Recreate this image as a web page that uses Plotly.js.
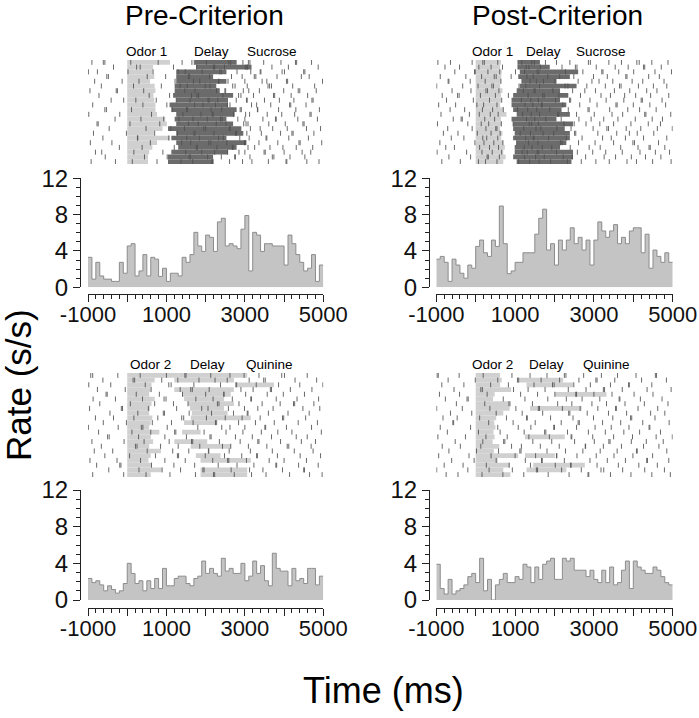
<!DOCTYPE html>
<html><head><meta charset="utf-8">
<script src="https://cdn.plot.ly/plotly-3.0.1.min.js"></script>
<style>html,body{margin:0;padding:0;background:#fff}#chart{width:699px;height:718px}</style>
</head><body><div id="chart"></div>
<script>
// ---------- DATA ----------
const columnTitles = ['Pre-Criterion', 'Post-Criterion'];
const xTickVals = [-1000, 0, 1000, 2000, 3000, 4000, 5000];
const xTickText = ['-1000', '', '1000', '', '3000', '', '5000'];
const yTickVals = [0, 4, 8, 12];
const binEdgeStart = -1000;
const binWidth = 100;

// PSTH rates (spikes/s), 100 ms bins from -1000 to 5000
const ratePreSucrose = [3.3,0.9,2.75,1.25,0.9,0.9,0.65,0.65,2.75,1.55,
 4.55,4.8,1.25,1.8,3.6,1.25,3.3,3.1,1.2,2.1,
 0.65,1.55,1.55,1.25,3.3,2.75,3.6,6.05,4.55,3.95,
 5.75,5.5,3.95,7.2,7.6,4.55,4.8,4.55,4.25,6.4,
 7.9,1.8,6.05,5.75,3.95,4.8,4.8,4.55,4.55,4.55,
 2.45,5.75,4.8,3.6,2.75,1.8,2.1,3.6,0.65,2.45];
const ratePostSucrose = [3.1,3.4,2.75,0.65,3.1,2.45,1.55,1.0,2.45,2.1,
 4.5,5.2,3.8,3.4,5.2,4.5,8.95,4.8,1.5,1.8,
 2.75,2.75,3.8,3.8,3.8,5.85,7.6,8.6,4.1,4.8,
 2.45,5.2,4.1,5.2,6.55,4.8,5.5,4.1,5.2,2.45,
 5.2,7.2,6.2,5.5,6.2,6.9,4.8,5.5,4.8,6.2,
 6.55,6.55,3.8,5.85,2.1,4.1,3.4,2.75,3.8,2.75];
const ratePreQuinine = [2.35,1.9,2.1,1.65,1.0,1.55,1.15,0.75,1.0,1.8,
 4.0,2.9,1.8,2.1,1.0,2.1,1.25,2.35,1.25,3.45,
 1.55,1.55,2.35,2.6,2.6,1.8,1.55,2.35,2.6,4.25,
 2.9,3.45,2.9,2.6,4.55,3.15,3.45,2.9,2.9,4.0,
 2.1,2.6,4.25,2.9,3.75,2.1,1.55,5.1,3.45,3.15,
 3.15,1.55,3.45,2.1,2.35,1.8,3.45,3.45,1.65,2.6];
const ratePostQuinine = [3.9,1.25,0.65,2.25,0.65,1.0,1.25,1.65,2.55,2.9,
 1.9,4.55,1.0,2.25,0,1.65,2.25,2.9,1.9,1.9,
 2.55,2.25,3.9,3.6,1.9,3.6,2.25,3.9,4.25,4.55,
 2.25,2.25,4.55,4.25,4.55,3.25,3.25,3.25,2.55,3.25,
 2.25,1.9,3.25,1.9,3.6,1.65,1.9,3.25,4.25,1.25,
 4.25,3.6,3.25,2.9,2.9,3.6,3.25,2.55,1.9,1.65];

// Event labels [text, time (ms)]
const eventLabelsPreSucrose = [['Odor 1', 490], ['Delay', 2140], ['Sucrose', 3700]];
const eventLabelsPostSucrose = [['Odor 1', 437], ['Delay', 1730], ['Sucrose', 3175]];
const eventLabelsPreQuinine = [['Odor 2', 583], ['Delay', 2040], ['Quinine', 3620]];
const eventLabelsPostQuinine = [['Odor 2', 437], ['Delay', 1806], ['Quinine', 3327]];

// Per-trial epochs (ms): odor sampling 0 -> odorEnd, delay delayStart -> delayEnd
const odorEndPreSucrose = [1090,660,650,690,580,700,720,670,690,720,720,760,970,1010,900,680,1090,760,640,560,530,530];
const delayStartPreSucrose = [1720,1760,1250,1250,1250,1210,1210,1170,1250,1080,1125,1250,1210,1250,1040,1250,1125,1250,1300,1125,1040,1040];
const delayEndPreSucrose = [2790,3170,2530,2190,2530,2270,2360,2700,2570,2570,2790,2740,2530,2700,2910,2960,2530,3040,2790,2570,2190,2190];

const odorEndPostSucrose = [640,620,660,650,640,620,680,640,650,620,700,780,640,660,620,680,650,700,740,700,760,700];
const delayStartPostSucrose = [1060,1060,1120,1080,1160,1120,1040,950,910,910,950,1040,910,950,950,990,950,1040,990,990,950,1040];
const delayEndPostSucrose = [1630,1880,2600,2390,2050,2560,2140,2350,2140,2300,2180,2390,2050,2470,2260,2390,2390,2300,2140,2470,2470,2430];

const odorEndPreQuinine = [1300,700,620,600,560,700,620,580,560,640,600,560,820,600,660,560,860,600,540,620,880,600];
const delayStartPreQuinine = [1300,1200,2800,1200,1400,1450,1550,1600,1650,1620,1450,null,1400,null,1200,1620,null,1750,1870,null,1870,1870];
const delayEndPreQuinine = [3060,2720,3740,2720,2640,2470,2720,2470,2560,3150,2300,null,1870,null,2040,2640,null,2380,3150,null,3060,3060];

const odorEndPostQuinine = [620,660,620,900,480,440,820,860,700,520,470,500,450,480,430,600,460,1080,560,860,700,880];
const delayStartPostQuinine = [null,1100,1290,null,2010,null,null,1380,null,null,null,null,null,1250,null,null,null,1250,null,1460,1290,null];
const delayEndPostQuinine = [null,2220,2470,null,3320,null,null,2690,null,null,null,null,null,2260,null,null,null,2010,null,2770,2300,null];

// Spike times (ms) per trial
const spikesPreSucrose = [
[-900,-610,-570,90,790,1400,1650,1710,2020,2590,2640,2950,3090,3130,3480,3920,4290,4320,4700],
[-350,240,330,1180,1770,2200,2230,2480,3010,3050,3070,3690,4110,4870],
[-990,-760,20,660,1300,1480,1910,2360,2400,2800,3150,3390,3410,3950,4010,4500,4530],
[-520,-480,510,980,1560,1590,2100,2660,2930,3240,3280,3820,4440,4640],
[-830,-130,300,1220,1690,1850,2330,2340,2570,3000,3440,3560,4060,4090,4980],
[-660,160,870,1350,1530,1990,2110,2690,2750,3060,3590,3630,3680,4220,4780],
[-950,-280,-250,420,1470,1730,2280,2490,2510,2960,3100,3370,3990,4360,4400,4820],
[-720,560,1080,1640,1780,1820,2440,2840,2900,3220,3730,3760,4180,4600],
[-410,-90,220,740,1250,1600,2060,2090,2310,2780,3040,3060,3500,3880,4250,4710,4740],
[-880,400,1010,1720,1930,2250,2550,2620,3170,3300,3660,4140,4170,4560],
[-570,-530,110,1150,1510,1540,2140,2410,2880,2910,3320,3330,3860,4300,4900],
[-980,-190,620,1420,1880,2170,2190,2710,3020,3120,3570,3940,4270,4660,4690],
[-310,350,930,1320,1680,2040,2380,2420,2820,3000,3460,3780,3800,4350,4850],
[-770,-740,70,830,1560,1810,2270,2520,2970,3030,3080,3610,4030,4480,4510],
[-460,480,1110,1460,1950,2000,2600,2630,3140,3390,3710,4080,4570,4930],
[-860,-20,700,1280,1700,1730,2210,2760,2790,3050,3420,3910,4200,4230,4760],
[-620,260,270,1060,1520,1840,2330,2450,2870,3110,3540,3560,4120,4620],
[-940,-390,590,1390,1620,2080,2130,2540,2990,3010,3360,3840,4380,4410,4960],
[-200,380,1200,1760,1790,2290,2680,2700,3080,3250,3640,3970,4310,4730],
[-810,-650,170,910,1490,1900,2230,2560,2850,3000,3490,3520,4000,4460,4680],
[-560,440,1020,1580,1610,2050,2400,2740,2760,3130,3700,3740,4150,4530],
[-920,-300,130,760,1370,1670,2160,2190,2610,2940,3180,3600,4050,4070,4580,4890]];

const spikesPostSucrose = [
[-960,-640,-90,180,220,560,1170,1420,1490,1770,2050,2390,2860,2910,3380,3700,4090,4150,4470,4880],
[-780,-410,80,390,680,1280,1350,1640,2190,2530,2570,3060,3540,3870,4260,4290,4710],
[-530,-30,-10,310,610,1010,1240,1560,1600,2280,2720,3200,3230,3630,4010,4550,4970],
[-900,-250,150,470,520,900,1300,1460,1830,2130,2490,2990,3340,3810,3840,4390,4660],
[-700,-680,-140,240,640,1380,1540,1720,2010,2600,2950,3130,3480,3970,4240,4780],
[-990,-330,60,410,450,1100,1270,1620,2270,2340,2820,3290,3650,3690,4130,4510,4850],
[-600,-120,260,300,590,1210,1480,1510,1960,2460,2770,3040,3520,3910,4340,4600],
[-850,-460,-420,120,500,830,1330,1700,1740,2110,2660,3180,3420,3780,4060,4440,4900],
[-740,-60,350,660,1160,1400,1590,2030,2380,2410,2900,3310,3760,4200,4230,4730],
[-940,-510,30,200,540,1250,1450,1670,1690,2210,2640,3080,3560,3590,4000,4420,4820],
[-650,-280,170,430,700,1060,1320,1550,1880,2350,2850,2880,3400,3860,4160,4580],
[-880,-160,90,370,570,1190,1410,1620,2080,2110,2560,3010,3460,3730,4290,4320,4950],
[-570,-370,-340,230,480,1290,1500,1780,2170,2620,2930,3250,3610,4050,4480,4740],
[-970,-200,140,330,650,950,1360,1420,1590,2240,2500,2800,3150,3500,3940,4380,4690],
[-710,-90,260,510,540,1220,1530,1650,2060,2420,2980,3330,3370,3820,4190,4610,4990],
[-820,-450,40,390,620,1130,1390,1710,1980,2510,2540,3100,3580,3900,4100,4520],
[-620,-300,180,280,560,1270,1460,1480,1850,2300,2700,3220,3440,3800,4260,4850],
[-910,-20,210,460,690,1040,1340,1580,2150,2190,2610,3030,3500,3990,4030,4640],
[-760,-540,100,350,580,1230,1430,1690,1930,2400,2880,3160,3680,4120,4400,4430,4800],
[-980,-230,160,420,660,1180,1310,1560,1600,2050,2580,2970,3300,3720,4170,4560,4920],
[-680,-130,290,320,600,1240,1520,1740,2220,2450,2790,3260,3550,3950,4310,4700],
[-860,-390,70,250,540,1090,1370,1610,1900,2330,2680,3050,3390,3840,4080,4490,4960]];

const spikesPreQuinine = [
[-930,-880,-240,330,1000,1470,1500,2130,2620,2980,3360,3940,4010,4590],
[-620,150,190,880,1290,1830,2240,2550,3110,3480,3520,4280,4830],
[-980,-420,460,1060,1120,1700,2380,2770,2790,3290,3860,4400,4990],
[-760,-50,610,1350,1620,1660,2090,2900,3210,3650,3680,4160,4710],
[-540,-510,230,820,1410,2000,2460,2470,3020,3570,3980,4520],
[-870,-300,390,940,990,1750,2190,2680,3150,3170,3800,4330,4880],
[-700,80,700,1180,1550,2300,2340,2850,3440,3900,4240,4270,4760],
[-960,-150,-120,540,1260,1900,2060,2580,2990,3330,3720,4480,4910],
[-440,270,920,950,1580,2150,2710,3060,3080,3600,4100,4640],
[-810,-350,170,780,1390,1440,2020,2500,2930,3390,3960,3990,4550],
[-610,-20,640,1130,1680,2250,2270,2840,3270,3750,4360,4850],
[-990,-230,360,400,1020,1800,2410,2620,3000,3510,3530,4060,4700],
[-730,120,600,1210,1240,1960,2520,2950,3420,3840,4200,4950],
[-500,-460,290,960,1510,2110,2140,2760,3190,3680,4310,4590],
[-900,-80,430,1070,1640,1670,2350,2880,3330,3360,3910,4440,4800],
[-660,210,250,850,1300,1850,2430,2640,3090,3560,4080,4120,4690],
[-840,-370,510,1160,1570,2070,2080,2600,3140,3700,4260,4740],
[-570,60,720,1280,1310,1990,2480,2920,3300,3320,3830,4410,4930],
[-950,-260,340,960,1480,2180,2560,2590,3040,3620,4000,4570],
[-780,-190,-160,620,1190,1720,2320,2800,3230,3790,3810,4370,4870],
[-470,300,890,1360,1930,1960,2650,3120,3460,3960,4500,4520],
[-880,-90,480,1090,1740,2200,2230,2730,3170,3540,4140,4650,4970]];

const spikesPostQuinine = [
[-980,-950,-420,190,920,1380,1810,2250,2290,2740,3190,3600,4070,4560,4590],
[-700,-10,560,1060,1090,1660,2130,2620,3050,3080,3530,4210,4840],
[-860,-300,380,830,1480,1950,1990,2490,2910,3420,3880,3900,4470],
[-550,130,170,960,1330,1760,2350,2800,3240,3270,3720,4350,4960],
[-920,-410,290,1140,1570,2010,2540,2560,3000,3460,4020,4500],
[-770,-220,-190,700,1250,1830,2300,2700,3150,3640,3660,4180,4730],
[-490,230,840,870,1440,2080,2440,2950,3320,3790,4280,4880],
[-990,-340,360,1020,1590,1620,2200,2650,3100,3550,3570,4120,4620],
[-640,-100,520,1180,1700,2360,2390,2830,3370,3830,4440,4800],
[-830,-470,100,780,1290,1310,1900,2470,2990,3480,3930,3960,4550],
[-580,-560,330,950,1510,2170,2600,2630,3220,3680,4240,4910],
[-900,-130,560,1080,1400,1980,2000,2560,3030,3440,3890,4400,4420],
[-720,70,620,1230,1750,1780,2330,2860,3290,3760,4160,4690],
[-960,-260,260,800,1350,1870,2420,2440,2970,3500,3980,4580,4990],
[-520,180,710,740,1450,1930,2510,3010,3380,3410,3950,4330,4760],
[-850,-390,130,910,1160,1640,2120,2780,2790,3240,3700,4260,4650],
[-680,20,580,1120,1150,1810,2280,2720,3160,3590,4080,4100,4850],
[-940,-170,390,1000,1520,2050,2060,2570,3060,3510,3990,4490],
[-610,-40,520,1260,1670,1690,2250,2900,3340,3800,4340,4360,4900],
[-800,-320,270,850,1390,2020,2410,2420,3080,3620,4140,4610],
[-990,-200,340,930,1540,1570,2180,2680,3180,3250,3730,4290,4790],
[-750,-450,160,690,1220,1840,2370,2850,2870,3420,3940,4470,4940]];

// ---------- LAYOUT GEOMETRY ----------
const W = 699, H = 718;
const fx = p => p / W, fy = p => 1 - p / H;
const cols = [
  {x0: 88, x1: 323.3, yAxisPx: 80, titlePx: 204},
  {x0: 436.3, x1: 672.7, yAxisPx: 429, titlePx: 557}
];
const rows = [
  {r0: 60, r1: 164, h0: 178.3, h1: 287.3, xAxisPx: 294, labelPx: 51},
  {r0: 373, r1: 477, h0: 490, h1: 600, xAxisPx: 608, labelPx: 364}
];

const panels = [
  {col: 0, row: 0, odorEnd: odorEndPreSucrose, dS: delayStartPreSucrose, dE: delayEndPreSucrose, dColor: '#6b6b6b', spikes: spikesPreSucrose, rate: ratePreSucrose, labels: eventLabelsPreSucrose},
  {col: 1, row: 0, odorEnd: odorEndPostSucrose, dS: delayStartPostSucrose, dE: delayEndPostSucrose, dColor: '#6b6b6b', spikes: spikesPostSucrose, rate: ratePostSucrose, labels: eventLabelsPostSucrose},
  {col: 0, row: 1, odorEnd: odorEndPreQuinine, dS: delayStartPreQuinine, dE: delayEndPreQuinine, dColor: '#d0d0d0', spikes: spikesPreQuinine, rate: ratePreQuinine, labels: eventLabelsPreQuinine},
  {col: 1, row: 1, odorEnd: odorEndPostQuinine, dS: delayStartPostQuinine, dE: delayEndPostQuinine, dColor: '#d0d0d0', spikes: spikesPostQuinine, rate: ratePostQuinine, labels: eventLabelsPostQuinine}
];

const FONT = 'Liberation Sans, Arial, Helvetica, sans-serif';
const traces = [];
const layout = {
  width: W, height: H,
  margin: {l: 0, r: 0, t: 0, b: 0},
  paper_bgcolor: '#fff', plot_bgcolor: 'rgba(0,0,0,0)',
  showlegend: false, barmode: 'overlay',
  font: {family: FONT, color: '#000'},
  annotations: []
};

panels.forEach((p, k) => {
  const c = cols[p.col], r = rows[p.row];
  const ra = 2 * k + 1, ha = 2 * k + 2;
  const nT = p.spikes.length;
  const xdom = [fx(c.x0), fx(c.x1)];
  layout['xaxis' + ra] = {domain: xdom, range: [-1000, 5000], visible: false, anchor: 'y' + ra, fixedrange: true};
  layout['yaxis' + ra] = {domain: [fy(r.r1), fy(r.r0)], range: [nT, 0], visible: false, anchor: 'x' + ra, fixedrange: true};
  layout['xaxis' + ha] = {
    domain: xdom, range: [-1000, 5000], anchor: 'free', position: fy(r.xAxisPx),
    showline: true, linecolor: '#222', linewidth: 1, showgrid: false, zeroline: false,
    tickmode: 'array', tickvals: xTickVals, ticktext: xTickText,
    ticks: 'outside', ticklen: 7, tickwidth: 1, tickcolor: '#222', ticklabelstandoff: -6,
    ticklabeloverflow: 'allow',
    minor: {tickmode: 'linear', tick0: -1000, dtick: 200, ticks: 'outside', ticklen: 4, tickwidth: 1, tickcolor: '#222', showgrid: false},
    tickfont: {size: 22, family: FONT, color: '#111'}, fixedrange: true
  };
  layout['yaxis' + ha] = {
    domain: [fy(r.h1), fy(r.h0)], range: [0, 12], anchor: 'free', position: fx(c.yAxisPx),
    showline: true, linecolor: '#222', linewidth: 1, showgrid: false, zeroline: false,
    tickmode: 'array', tickvals: yTickVals,
    ticks: 'outside', ticklen: 7, tickwidth: 1, tickcolor: '#222',
    minor: {tickmode: 'linear', tick0: 0, dtick: 1, ticks: 'outside', ticklen: 4, tickwidth: 1, tickcolor: '#222', showgrid: false},
    tickfont: {size: 24, family: FONT, color: '#111'}, fixedrange: true
  };

  const rowY = p.spikes.map((_, i) => i + 0.5);
  traces.push({type: 'bar', orientation: 'h', xaxis: 'x' + ra, yaxis: 'y' + ra,
    y: rowY, base: p.odorEnd.map(() => 0), x: p.odorEnd.map(v => v),
    width: 1, marker: {color: '#d0d0d0', line: {width: 0}}, hoverinfo: 'skip'});
  const dy = [], db = [], dx = [];
  p.dS.forEach((s, i) => { if (s !== null) { dy.push(i + 0.5); db.push(s); dx.push(p.dE[i] - s); } });
  traces.push({type: 'bar', orientation: 'h', xaxis: 'x' + ra, yaxis: 'y' + ra,
    y: dy, base: db, x: dx, width: 1, marker: {color: p.dColor, line: {width: 0}}, hoverinfo: 'skip'});
  const sx = [], sy = [];
  p.spikes.forEach((tr, i) => tr.forEach(t => { sx.push(t); sy.push(i + 0.5); }));
  traces.push({type: 'scatter', mode: 'markers', xaxis: 'x' + ra, yaxis: 'y' + ra, x: sx, y: sy,
    marker: {symbol: 'line-ns', size: 3.6, opacity: 0.85, line: {width: 1, color: '#505050'}, color: '#505050'}, hoverinfo: 'skip'});
  const hx = p.rate.map((_, i) => binEdgeStart + i * binWidth);
  hx.push(binEdgeStart + p.rate.length * binWidth);
  const hy = p.rate.slice(); hy.push(p.rate[p.rate.length - 1]);
  traces.push({type: 'scatter', mode: 'lines', xaxis: 'x' + ha, yaxis: 'y' + ha, x: hx, y: hy,
    line: {shape: 'hv', color: '#8c8c8c', width: 1}, fill: 'tozeroy', fillcolor: '#c4c4c4', hoverinfo: 'skip'});
  p.labels.forEach(([txt, t]) => {
    layout.annotations.push({text: txt, xref: 'x' + ra, yref: 'paper', x: t, y: fy(r.labelPx),
      xanchor: 'center', yanchor: 'middle', showarrow: false, font: {size: 13.5, family: FONT, color: '#000'}});
  });
});

columnTitles.forEach((t, i) => {
  layout.annotations.push({text: t, xref: 'paper', yref: 'paper', x: fx(cols[i].titlePx), y: fy(15),
    xanchor: 'center', yanchor: 'middle', showarrow: false, font: {size: 28, family: FONT, color: '#000'}});
});
layout.annotations.push({text: 'Rate (s/s)', xref: 'paper', yref: 'paper', x: fx(18), y: fy(385), textangle: -90,
  xanchor: 'center', yanchor: 'middle', showarrow: false, font: {size: 35, family: FONT, color: '#000'}});
layout.annotations.push({text: 'Time (ms)', xref: 'paper', yref: 'paper', x: fx(383), y: fy(690),
  xanchor: 'center', yanchor: 'middle', showarrow: false, font: {size: 36, family: FONT, color: '#000'}});

Plotly.newPlot('chart', traces, layout, {staticPlot: true, displayModeBar: false});
</script></body></html>
